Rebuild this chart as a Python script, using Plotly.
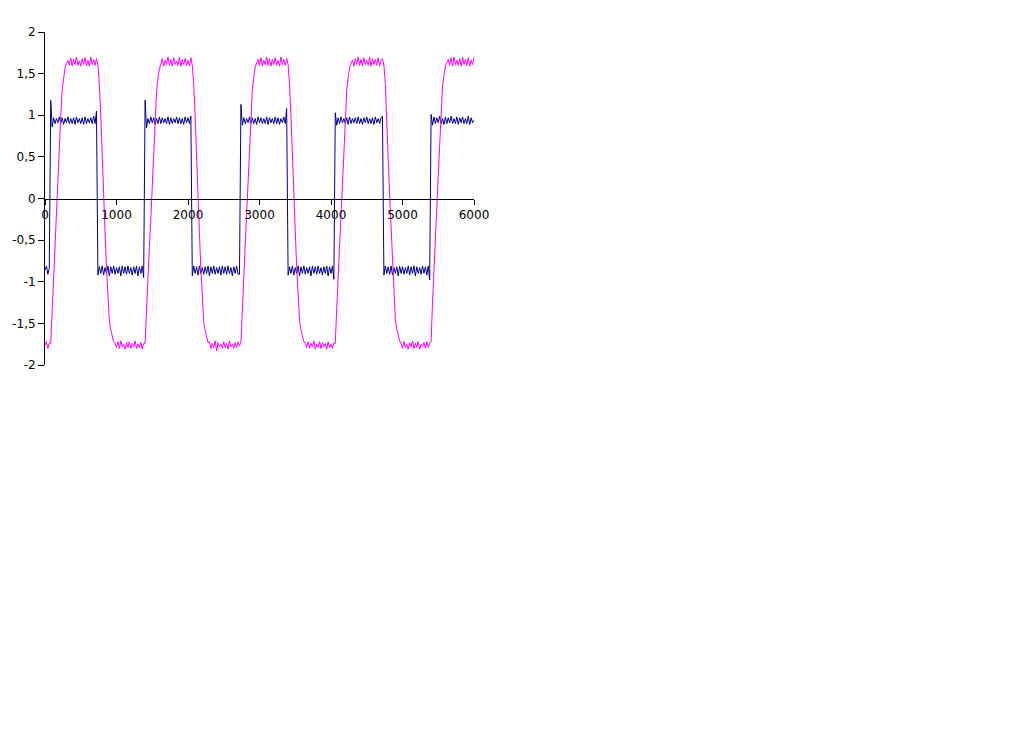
import plotly.graph_objects as go

# sample positions (step 20)
x_values = list(range(0, 6001, 20))

# navy square-wave signal, read segment by segment
navy_values = (
    # low 0-60
    [-0.86, -0.81, -0.91, -0.84]
    # high 80-720
    + [1.18, 0.86,
       0.97, 0.90, 0.96, 0.91, 0.98, 0.90, 0.97, 0.89, 0.96, 0.91,
       0.98, 0.90, 0.96, 0.90, 0.97, 0.89, 0.98, 0.91, 0.96, 0.90,
       0.97, 0.89, 0.98, 0.90, 0.96, 0.91, 0.97, 0.90, 0.99, 0.90,
       1.05]
    # low 740-1380
    + [-0.92,
       -0.82, -0.90, -0.81, -0.92, -0.83, -0.90, -0.81, -0.93, -0.82, -0.90,
       -0.81, -0.91, -0.83, -0.90, -0.82, -0.93, -0.81, -0.90, -0.82, -0.91,
       -0.81, -0.90, -0.83, -0.92, -0.82, -0.90, -0.81, -0.93, -0.82, -0.90,
       -0.81,
       -0.95]
    # high 1400-2040
    + [1.18, 0.85,
       0.96, 0.90, 0.98, 0.91, 0.97, 0.89, 0.96, 0.90, 0.98, 0.90,
       0.97, 0.91, 0.96, 0.90, 0.98, 0.89, 0.97, 0.90, 0.96, 0.91,
       0.98, 0.90, 0.97, 0.90, 0.96, 0.89, 0.98, 0.91, 0.97, 0.90,
       0.99]
    # low 2060-2720
    + [-0.93,
       -0.81, -0.90, -0.82, -0.92, -0.81, -0.90, -0.83, -0.91, -0.82, -0.90,
       -0.81, -0.93, -0.82, -0.90, -0.81, -0.91, -0.83, -0.90, -0.82, -0.92,
       -0.81, -0.90, -0.82, -0.91, -0.81, -0.90, -0.83, -0.93, -0.82, -0.90,
       -0.81, -0.91,
       -0.91]
    # high 2740-3380
    + [1.13, 0.88,
       0.97, 0.90, 0.96, 0.91, 0.98, 0.90, 0.97, 0.90, 0.96, 0.89,
       0.98, 0.91, 0.97, 0.90, 0.96, 0.90, 0.98, 0.89, 0.97, 0.91,
       0.96, 0.90, 0.98, 0.90, 0.97, 0.89, 0.96, 0.91, 0.98, 0.90,
       1.08]
    # low 3400-4040
    + [-0.92,
       -0.82, -0.90, -0.81, -0.92, -0.83, -0.90, -0.81, -0.93, -0.82, -0.90,
       -0.81, -0.91, -0.83, -0.90, -0.82, -0.93, -0.81, -0.90, -0.82, -0.91,
       -0.81, -0.90, -0.83, -0.92, -0.82, -0.90, -0.81, -0.93, -0.82, -0.90,
       -0.81,
       -0.97]
    # high 4060-4720
    + [1.03, 0.88,
       0.97, 0.90, 0.98, 0.91, 0.96, 0.90, 0.97, 0.89, 0.98, 0.90,
       0.96, 0.91, 0.97, 0.90, 0.98, 0.90, 0.96, 0.89, 0.97, 0.91,
       0.98, 0.90, 0.96, 0.90, 0.97, 0.89, 0.98, 0.91, 0.96, 0.90,
       0.97,
       0.99]
    # low 4740-5380
    + [-0.92,
       -0.81, -0.90, -0.82, -0.91, -0.81, -0.92, -0.83, -0.90, -0.82, -0.93,
       -0.81, -0.90, -0.82, -0.91, -0.83, -0.90, -0.81, -0.92, -0.82, -0.90,
       -0.81, -0.93, -0.82, -0.90, -0.83, -0.91, -0.81, -0.90, -0.82, -0.92,
       -0.81,
       -0.98]
    # high 5400-6000
    + [1.01, 0.88,
       0.98, 0.90, 0.97, 0.91, 0.99, 0.90, 0.96, 0.89, 0.98, 0.90,
       0.97, 0.91, 0.99, 0.90, 0.96, 0.90, 0.98, 0.89, 0.97, 0.91,
       0.98, 0.90, 0.96, 0.90, 0.99, 0.89, 0.97, 0.91, 0.94]
)

# magenta filtered response
magenta_values = (
    [-1.76, -1.72, -1.80, -1.74]
    # rise
    + [-1.74, -1.33, -0.88, -0.56, -0.22, 0.14, 0.55, 0.98, 1.30, 1.45, 1.57, 1.62]
    # high
    + [1.66, 1.60, 1.69, 1.59, 1.67, 1.61, 1.70, 1.60, 1.65, 1.59, 1.68,
       1.61, 1.69, 1.60, 1.66, 1.59, 1.70, 1.61, 1.67, 1.60, 1.68]
    # fall
    + [1.60, 1.38, 1.00, 0.45, 0.02, -0.40, -0.83, -1.25, -1.47, -1.58, -1.66, -1.72]
    # low
    + [-1.74, -1.79, -1.72, -1.80, -1.71, -1.78, -1.75, -1.81, -1.73, -1.79, -1.72,
       -1.80, -1.74, -1.78, -1.71, -1.80, -1.75, -1.79, -1.73, -1.81, -1.74]
    # rise
    + [-1.74, -1.35, -0.90, -0.58, -0.24, 0.12, 0.52, 0.95, 1.28, 1.44, 1.56, 1.61]
    # high
    + [1.68, 1.59, 1.66, 1.61, 1.70, 1.60, 1.67, 1.59, 1.69, 1.61, 1.65,
       1.60, 1.70, 1.59, 1.67, 1.61, 1.68, 1.60, 1.66, 1.59, 1.69]
    # fall
    + [1.60, 1.36, 0.98, 0.44, 0.01, -0.42, -0.85, -1.27, -1.48, -1.59, -1.67, -1.73]
    # low
    + [-1.72, -1.80, -1.74, -1.79, -1.71, -1.83, -1.73, -1.78, -1.75, -1.80, -1.72,
       -1.79, -1.74, -1.81, -1.71, -1.78, -1.75, -1.80, -1.73, -1.79, -1.72, -1.77]
    # rise
    + [-1.73, -1.30, -0.85, -0.52, -0.18, 0.18, 0.58, 1.00, 1.31, 1.46, 1.58, 1.63]
    # high
    + [1.67, 1.60, 1.69, 1.59, 1.66, 1.61, 1.70, 1.60, 1.68, 1.59, 1.67,
       1.61, 1.69, 1.60, 1.66, 1.59, 1.70, 1.61, 1.67, 1.60, 1.68]
    # fall
    + [1.61, 1.37, 0.99, 0.46, 0.03, -0.39, -0.82, -1.24, -1.46, -1.58, -1.66, -1.72]
    # low
    + [-1.73, -1.79, -1.72, -1.80, -1.74, -1.78, -1.71, -1.81, -1.75, -1.79, -1.72,
       -1.80, -1.73, -1.78, -1.74, -1.81, -1.72, -1.79, -1.75, -1.80, -1.73]
    # rise
    + [-1.74, -1.32, -0.87, -0.55, -0.20, 0.16, 0.56, 0.99, 1.30, 1.45, 1.57, 1.62]
    # high
    + [1.66, 1.59, 1.68, 1.61, 1.70, 1.60, 1.67, 1.59, 1.69, 1.61, 1.66,
       1.60, 1.70, 1.59, 1.68, 1.61, 1.67, 1.60, 1.69, 1.59, 1.66, 1.68]
    # fall
    + [1.60, 1.38, 1.01, 0.47, 0.04, -0.38, -0.81, -1.23, -1.45, -1.57, -1.66, -1.71]
    # low
    + [-1.74, -1.80, -1.72, -1.79, -1.75, -1.81, -1.73, -1.78, -1.71, -1.80, -1.74,
       -1.79, -1.72, -1.81, -1.75, -1.78, -1.73, -1.80, -1.72, -1.79, -1.74]
    # rise
    + [-1.72, -1.25, -0.80, -0.45, -0.10, 0.28, 0.68, 1.05, 1.35, 1.48, 1.59, 1.63]
    # high
    + [1.67, 1.60, 1.69, 1.59, 1.70, 1.61, 1.66, 1.60, 1.68, 1.59, 1.70,
       1.61, 1.67, 1.60, 1.69, 1.59, 1.66, 1.61, 1.70]
)

x_tick_values = [0, 1000, 2000, 3000, 4000, 5000, 6000]
x_tick_labels = ["0", "1000", "2000", "3000", "4000", "5000", "6000"]
y_tick_values = [-2, -1.5, -1, -0.5, 0, 0.5, 1, 1.5, 2]
y_tick_labels = ["-2", "-1,5", "-1", "-0,5", "0", "0,5", "1", "1,5", "2"]

fig = go.Figure()
fig.add_trace(go.Scatter(x=x_values, y=navy_values, mode="lines",
                         line=dict(color="#000080", width=1), name="Serie 1"))
fig.add_trace(go.Scatter(x=x_values, y=magenta_values, mode="lines",
                         line=dict(color="#FF00FF", width=1), name="Serie 2"))

fig.update_layout(
    width=1009, height=737,
    margin=dict(l=37, r=543, t=24, b=380, pad=0, autoexpand=False),
    paper_bgcolor="white", plot_bgcolor="white",
    showlegend=False,
    font=dict(family="DejaVu Sans", size=12, color="black"),
    xaxis=dict(range=[0, 6000], tickvals=x_tick_values, ticktext=x_tick_labels,
               showline=True, linecolor="black", linewidth=1,
               ticks="outside", ticklen=5, tickcolor="black", tickwidth=1,
               showgrid=False, zeroline=False, anchor="free", position=0.5,
               automargin=False),
    yaxis=dict(range=[-2, 2], tickvals=y_tick_values, ticktext=y_tick_labels,
               showline=True, linecolor="black", linewidth=1,
               ticks="outside", ticklen=6, tickcolor="black", tickwidth=1,
               showgrid=False, zeroline=False, automargin=False),
)

fig.write_html("out.html")
